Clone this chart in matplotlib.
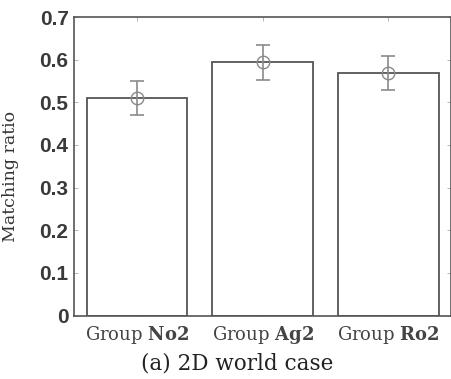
import numpy as np
import matplotlib
matplotlib.use("Agg")
import matplotlib.pyplot as plt

# values
groups = ["No2", "Ag2", "Ro2"]
ratio = [0.51, 0.594, 0.568]
err = [0.04, 0.041, 0.04]
yticks = [0, 0.1, 0.2, 0.3, 0.4, 0.5, 0.6, 0.7]

plt.rcParams['mathtext.fontset'] = 'custom'
plt.rcParams['mathtext.bf'] = 'DejaVu Serif:bold'
plt.rcParams['mathtext.rm'] = 'DejaVu Serif'

fig = plt.figure(figsize=(4.52, 3.79), dpi=100)
ax = fig.add_axes([0.164, 0.1675, 0.834, 0.7875])

x = np.arange(1, len(groups) + 1)
edge = "#555555"
ax.bar(x, ratio, width=0.8, color="white", edgecolor=edge, linewidth=1.3, zorder=2)
ax.errorbar(x, ratio, yerr=err, fmt="o", mfc="none", mec="#8a8a8a", ms=9,
            ecolor="#8a8a8a", elinewidth=1.2, capsize=5, capthick=1.2, zorder=3)

ax.set_xlim(0.5, 3.5)
ax.set_ylim(0, 0.7)
ax.set_yticks(yticks)
ax.set_yticklabels([("%g" % v) for v in yticks], family="Liberation Sans",
                   fontsize=15, fontweight="bold", color="#3a3a3a")
ax.set_xticks(x)
ax.set_xticklabels(["Group $\\mathbf{%s}$" % g for g in groups],
                   family="DejaVu Serif", fontsize=13, color="#444444")
ax.tick_params(direction="in", top=True, right=True, length=3, width=0.6,
               color="#aaaaaa", pad=4)
ax.tick_params(axis="x", pad=6)
for s in ax.spines.values():
    s.set_color(edge)
    s.set_linewidth(1.2)

ax.set_ylabel("Matching ratio", family="DejaVu Serif", fontsize=12.5,
              color="#333333")
ax.yaxis.set_label_coords(-0.146, 0.467)

fig.text(0.525, 0.042, "(a) 2D world case", family="DejaVu Serif",
         fontsize=15.5, ha="center", va="center", color="#222222")

fig.savefig("out.png", dpi=100)
